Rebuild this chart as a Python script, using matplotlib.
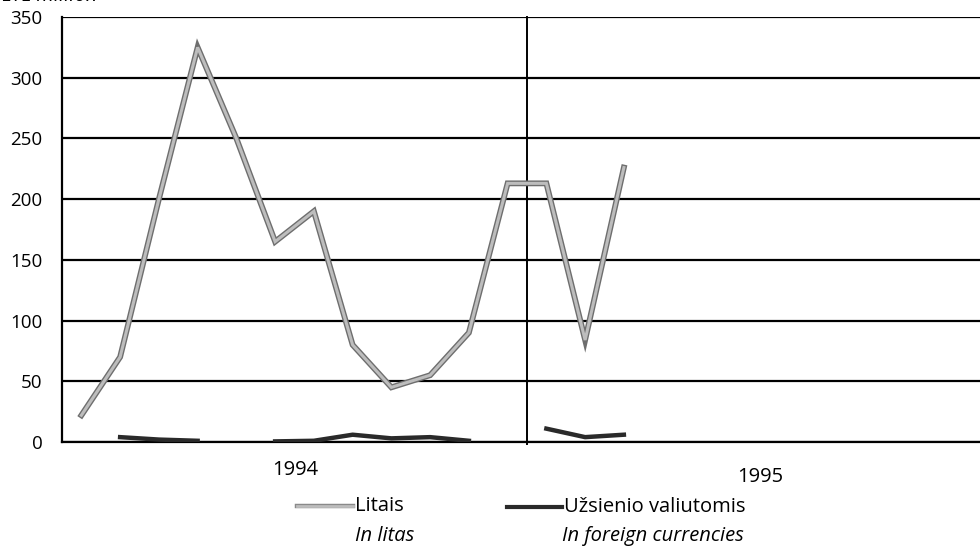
import numpy as np
import matplotlib
matplotlib.use("Agg")
import matplotlib.pyplot as plt
import matplotlib.patheffects as pe
from matplotlib.lines import Line2D

plt.rcParams['font.family'] = ['Open Sans', 'DejaVu Sans']

# Monthly data, Jan 1994 .. Mar 1995
months = list(range(15))
litais = [22, 70, 200, 325, 250, 165, 190, 80, 45, 55, 90, 213, 213, 84, 226]
foreign = [np.nan, 4, 2, 1, np.nan, 0.5, 1, 6, 3, 4, 1, np.nan, 11, 4, 6]
years = ["1994", "1995"]
yticks = [0, 50, 100, 150, 200, 250, 300, 350]
unit_label = "LTL million"
legend_main = ["Litais", "Užsienio valiutomis"]
legend_sub = ["In litas", "In foreign currencies"]

W, H = 980, 554
fig = plt.figure(figsize=(W / 100, H / 100), dpi=100)
ax = fig.add_axes([62 / W, 112 / H, 930 / W, 425 / H])

x = np.array(months) + 0.5
ax.plot(x, litais, color='#bdbdbd', lw=2.2, solid_joinstyle='miter', zorder=3,
        path_effects=[pe.Stroke(linewidth=4.2, foreground='#6e6e6e'), pe.Normal()])
ax.plot(x, foreign, color='#2a2a2a', lw=3.2, zorder=3)

ax.set_xlim(0, 24)
ax.set_ylim(0, 350)
ax.set_yticks(yticks)
ax.set_xticks([])
ax.tick_params(axis='y', length=0, pad=14, labelsize=13.5)
for v in yticks:
    ax.axhline(v, color='black', lw=1.6, zorder=2)
ax.plot([12, 12], [-2, 350], color='black', lw=1.4, clip_on=False, zorder=2)
for s in ['top', 'right']:
    ax.spines[s].set_visible(False)
ax.spines['left'].set_linewidth(1.6)
ax.spines['bottom'].set_linewidth(1.6)

fs = 14.5
fig.text(295 / W, 1 - 470 / H, years[0], ha='center', va='center', fontsize=fs)
fig.text(760 / W, 1 - 477 / H, years[1], ha='center', va='center', fontsize=fs)

fig.text(2 / W, 1 + 4 / H, unit_label, ha='left', va='center',
         fontsize=fs, style='italic')

# legend
fig.add_artist(Line2D([297 / W, 353 / W], [1 - 506 / H] * 2, color='#bdbdbd', lw=2,
                      path_effects=[pe.Stroke(linewidth=3.2, foreground='#8a8a8a'), pe.Normal()]))
fig.text(355 / W, 1 - 506 / H, legend_main[0], ha='left', va='center', fontsize=fs)
fig.text(385 / W, 1 - 536 / H, legend_sub[0], ha='center', va='center', fontsize=fs, style='italic')
fig.add_artist(Line2D([507 / W, 562 / W], [1 - 507 / H] * 2, color='#2a2a2a', lw=3))
fig.text(564 / W, 1 - 507 / H, legend_main[1], ha='left', va='center', fontsize=fs)
fig.text(653 / W, 1 - 536 / H, legend_sub[1], ha='center', va='center', fontsize=fs, style='italic')

fig.savefig('out.png', dpi=100)
